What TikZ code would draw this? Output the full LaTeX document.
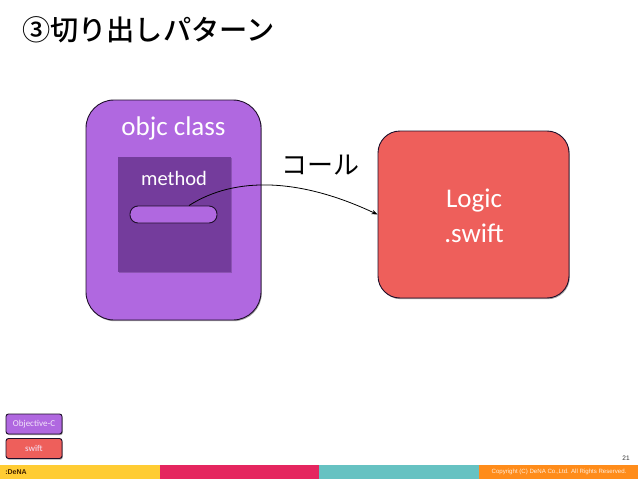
\documentclass[tikz,border=0pt]{standalone}
\usepackage{fontspec}
\setmainfont{Carlito}
\newfontfamily\jpfont{Noto Sans CJK JP}
\newfontfamily\jpmedium{Noto Sans CJK JP Medium}
\newfontfamily\arialfont{Liberation Sans}
\usetikzlibrary{arrows.meta,shadows}
\definecolor{objcpurple}{HTML}{B068E0}
\definecolor{innerpurple}{HTML}{743C9C}
\definecolor{swiftred}{HTML}{EE5F5B}
\definecolor{edgedark}{HTML}{1E0F2A}
\definecolor{labeltext}{HTML}{F3E6FA}
\definecolor{baryellow}{HTML}{FFCC33}
\definecolor{barpink}{HTML}{E5265F}
\definecolor{barteal}{HTML}{66C2C2}
\definecolor{barorange}{HTML}{FF8C1A}
\tikzset{
  x=1pt,y=-1pt,
  softshadow/.style={drop shadow={shadow xshift=0.8pt,shadow yshift=-1.2pt,opacity=0.35,fill=black}},
  box/.style={draw=edgedark,line width=0.9pt,inner sep=0,softshadow},
  bar/.style={fill=#1,draw=none,inner sep=0,minimum height=13.5pt,minimum width=159.5pt,anchor=north west},
  boxlabel/.style={text=white,inner sep=0,font=\fontsize{27}{31}\selectfont},
  legendlabel/.style={text=labeltext,inner sep=0,font=\fontsize{9}{11}\selectfont},
}
\begin{document}
\begin{tikzpicture}
\useasboundingbox (0,0) rectangle (638,479);
\fill[white] (0,0) rectangle (638,479);
\node[anchor=west,inner sep=0,font=\jpmedium\fontsize{28.2}{32}\selectfont] (title) at (22,30) {③切り出しパターン};
\node[box,fill=objcpurple,rounded corners=28pt,minimum width=175pt,minimum height=220pt] (objc) at (173.5,210) {};
\node[boxlabel] (objclabel) at (173.5,128) {objc class};
\node[fill=innerpurple,draw=none,inner sep=0,minimum width=113pt,minimum height=115pt,drop shadow={shadow xshift=0.5pt,shadow yshift=-0.5pt,opacity=0.2,fill=black}] (inner) at (174.5,214.5) {};
\node[text=white,inner sep=0,font=\fontsize{20.5}{24}\selectfont] (methodlabel) at (174,178) {method};
\node[draw=edgedark,line width=0.9pt,fill=objcpurple,rounded corners=8pt,minimum width=87pt,minimum height=17pt,inner sep=0] (pill) at (173.5,214.5) {};
\node[box,fill=swiftred,rounded corners=22pt,minimum width=191pt,minimum height=167pt] (logic) at (473.5,214.5) {};
\node[boxlabel,align=center,font=\fontsize{27}{34.5}\selectfont] (logiclabel) at (474,216) {Logic\\.swift};
\node[inner sep=0,font=\jpfont\fontsize{26}{30}\selectfont] (call) at (320,165) {コール};
\draw[line width=0.8pt,-{Stealth[length=6pt,width=4.5pt]}] ([xshift=15.5pt]pill.north) .. controls (235,176) and (300,178) .. (logic.west);
\node[box,fill=objcpurple,rounded corners=2.5pt,minimum width=56pt,minimum height=20pt] (legendobjc) at (34,424) {};
\node[legendlabel] (legendobjclabel) at (34,424) {Objective-C};
\node[box,fill=swiftred,rounded corners=2.5pt,minimum width=56pt,minimum height=20pt] (legendswift) at (34,448.5) {};
\node[legendlabel] (legendswiftlabel) at (34,448.5) {swift};
\node[bar=baryellow] (bara) at (0,465) {};
\node[bar=barpink] (barb) at (159.5,465) {};
\node[bar=barteal] (barc) at (319,465) {};
\node[bar=barorange] (bard) at (478.5,465) {};
\node[inner sep=0,font=\arialfont\bfseries\fontsize{7}{8}\selectfont,text=black!75!orange] (logo) at (16,472) {:DeNA};
\node[inner sep=0,font=\arialfont\fontsize{6.1}{8}\selectfont,text=white!88!orange] (copy) at (559,472) {Copyright (C) DeNA Co.,Ltd. All Rights Reserved.};
\node[inner sep=0,font=\arialfont\fontsize{6.5}{8}\selectfont,text=black!80] (page) at (626,458.5) {21};
\end{tikzpicture}
\end{document}
